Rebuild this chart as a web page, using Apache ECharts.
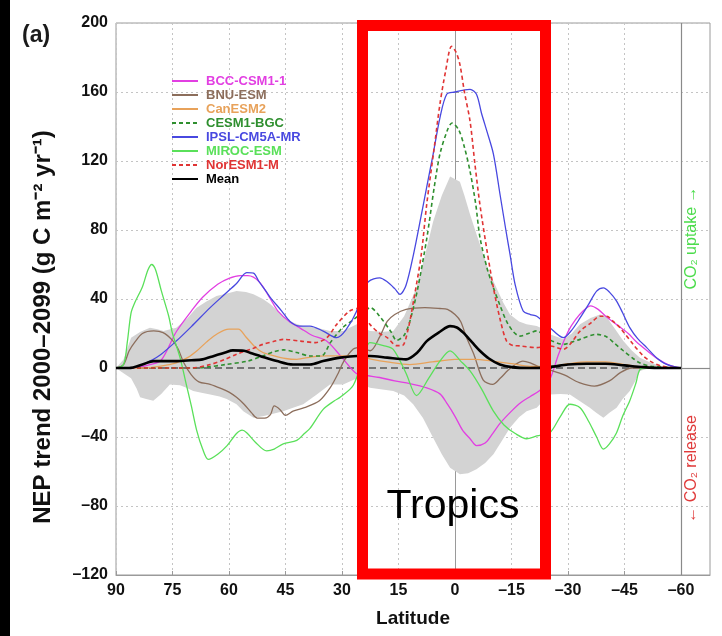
<!DOCTYPE html>
<html>
<head>
<meta charset="utf-8">
<script src="https://cdn.jsdelivr.net/npm/echarts@6/dist/echarts.min.js"></script>
<style>
html,body{margin:0;padding:0;background:#fff;}
#chart{width:722px;height:636px;}
</style>
</head>
<body>
<div id="chart"></div>
<script>
// ---- tick labels ----
const xTicks = [90, 75, 60, 45, 30, 15, 0, -15, -30, -45, -60];
const yTicks = [-120, -80, -40, 0, 40, 80, 120, 160, 200];

// ---- series values: [latitude, NEP trend] ----
const bccCsm = [[90,0],[87,0],[84,0.5],[81,2],[78,4.5],[74,21],[70,33],[67,41],[63,48.5],[60,52],[57,53.5],[55,53.5],[52,50],[49,40],[47,33],[44,27],[41,23],[38,19],[34,15.5],[30,6],[26,-3.5],[23,-4.5],[20,-5.5],[16,-7.5],[12,-9],[7.5,-11.5],[4,-15],[2,-21],[0,-28],[-2,-36],[-4,-41],[-5.7,-45],[-8,-43.5],[-10,-38],[-12,-32],[-15,-25],[-17.5,-20],[-20,-16.5],[-22.5,-13],[-25,-7.5],[-27.5,8],[-30,21],[-32,28],[-34,33],[-36,36],[-38,34],[-40,30],[-43,25],[-46,20],[-48,15.5],[-51,10],[-54,5],[-57,1.5],[-60,0]];
const bnuEsm = [[90,0],[88,2],[86.5,10],[85,15],[83,20],[80,21.5],[77.5,20.5],[75,16],[73.5,11],[72,3],[70,-4],[68,-8],[65,-9.5],[62,-12],[60,-14],[58,-17],[56,-21],[54,-26],[52.5,-29],[50.5,-29],[49,-27],[48,-22],[46.5,-24],[45,-27.5],[43,-25],[40,-23],[36,-19],[33,-11],[31,-3],[29.5,4],[27,11],[25,12],[22.5,10],[20,18],[18,27],[16,31],[13,34],[8,35],[4,34.5],[2,34],[0,31],[-1.5,27],[-3,18],[-5,8],[-7.5,-7],[-10,-9.5],[-12,-6],[-14,-1.5],[-16,2],[-18,4],[-20,3],[-22,1],[-25,-1],[-29,-4],[-33,-8.5],[-37,-10.5],[-41,-7.5],[-44,-2.5],[-47,0],[-60,0]];
const canEsm2 = [[90,0],[83,0],[80,0.5],[77,1.5],[74,3],[71,6],[68.5,10],[66,15],[63,20],[60,22.5],[57.5,22.5],[55.5,18],[53,12],[51,9],[48,7],[45,5.5],[42,5],[38,6.5],[34,7],[30,7],[26,7],[22,5],[18,3.5],[12,2],[6,3.5],[0,5],[-5,5],[-10,4],[-15,2.5],[-20,1],[-25,1],[-30,2.5],[-35,3.5],[-40,3.5],[-45,2],[-50,0.5],[-60,0]];
const cesm1Bgc = [[90,0],[80,0],[70,0],[66,0.5],[61,2],[55,4],[51,7],[48,9.5],[45.5,10.5],[42,9],[38.5,7],[35.5,7],[33,15],[30,23],[27,28],[24,33],[22.5,35],[20,30],[17,21],[15.5,16],[13.5,19],[12,27],[10,45],[7.5,75],[5.5,105],[4,124],[2,138],[0.8,142],[-1,138],[-2.5,128],[-4,114],[-5.5,95],[-6.6,76],[-8.5,58],[-10.2,46.5],[-12,36],[-13.7,27],[-15.5,21],[-17.2,18.5],[-19.5,20],[-21.7,21.5],[-25,16.5],[-28.8,13.7],[-31,15],[-33.2,16.6],[-37.6,19.5],[-40.3,18],[-42.5,14],[-44.7,10],[-47,6],[-49,3],[-52,1],[-60,0]];
const ipslCm5aMr = [[90,0],[86,0],[84,1],[81,4],[78,8],[74,15.6],[70,24],[65,35],[61,43],[58,49],[55.3,55.3],[53.5,55],[52,50],[50,44],[49,40.8],[46,33],[43.8,27],[41.2,24.3],[38.5,24.3],[35,21.4],[31.4,17.6],[29,22],[26.1,33],[25.2,42],[23,50],[20,52.3],[18,50],[16,46],[14.6,42.7],[13,48],[11,66],[9,88],[7.5,105],[5.8,124],[4,145],[2.2,158.7],[0,160],[-1.3,160.6],[-4,161.5],[-5.7,158.7],[-7,148],[-8.5,137],[-10.2,124],[-12,100],[-13.5,80],[-14.6,66],[-16,48],[-18.1,33],[-20,31],[-21.7,30],[-25.2,23.4],[-28.8,17.6],[-31,22],[-33.2,29],[-35.5,37],[-37.6,44.6],[-39.4,46.5],[-41,44],[-42.9,38.8],[-44.5,32],[-46.4,23.4],[-48.5,17],[-50.9,11.8],[-53.5,6],[-56.2,2.1],[-60,0]];
const mirocEsm = [[90,0],[88,2],[87,15],[86,32],[85,38],[83,47],[81.5,57],[80.5,60],[79.5,57],[78,45],[76,30],[75,20],[73,6],[71.5,-8],[70,-22],[68.6,-36],[67,-47],[65.5,-53],[63,-50],[60.5,-45],[58,-38],[56.5,-36],[55.3,-37.5],[53,-43],[50,-48],[48,-47],[45.6,-44],[42,-42],[40,-38],[38.5,-35],[35,-24],[32,-19],[30.5,-17],[27,-10],[24,8],[22.6,14.7],[19,13],[16.4,10.8],[13,-3],[10.2,-16],[7,-6],[4,4],[1.3,9.9],[-1.5,4],[-4,-1.7],[-7,-12],[-10.2,-25],[-13,-33],[-16,-38],[-19,-41],[-21.7,-39.4],[-25.2,-37.5],[-28,-28],[-30.5,-21],[-33.2,-23],[-35.5,-31],[-37.6,-40],[-39.4,-47],[-41,-44],[-42.9,-37.5],[-44.5,-28],[-46.4,-19],[-48,-9],[-49.1,-1],[-51,0],[-60,0]];
const norEsm1M = [[90,0],[75,0],[70,0],[65,2],[61,5],[58,8],[54,11],[51,13.7],[48,15.5],[45.6,16.6],[41,15.6],[37,14.7],[34,17.6],[31.4,25.3],[28,33],[25.7,34.6],[22.6,25.3],[20,20],[18,17.6],[15.5,13],[14,13],[12.5,22],[11,39],[9,65],[7.5,95],[5.5,128],[4,153],[2.5,172],[0.9,186.5],[-0.3,183],[-1.3,176],[-2.5,160],[-4,143],[-5.3,118],[-6.6,95],[-8.5,68],[-10.2,46.5],[-12,28],[-13.7,15.6],[-15.5,13],[-17.2,12.8],[-21.7,11.8],[-25.2,12.8],[-28.8,10.8],[-31,15],[-33.2,21.4],[-36,26],[-38.5,30],[-40.3,30],[-42,27],[-43.8,23.4],[-47.3,13.7],[-50,7],[-51.8,4],[-55,1],[-60,0]];
const meanNep = [[90,0],[86.5,0],[83,2],[80,4],[74,4],[70,4.5],[67,5],[64,7],[61,9],[59,10.2],[56,10],[54,8.5],[51.8,7],[47.3,4],[43,2],[38.5,2],[35,4],[30.5,6],[26,7],[22.6,7],[18,6],[13,5],[10,9],[7.5,15.6],[4,21],[1.3,24.3],[-0.5,23.5],[-2.2,20.5],[-4.5,15],[-6.6,10],[-9,5.5],[-11.9,2],[-15,0.5],[-20,0],[-25,0.5],[-30,2],[-35,2.5],[-40,2.5],[-45,1.5],[-50,0.5],[-55,0],[-60,0]];
const bandUpper = [[90,0],[88,5],[86,17.6],[83.5,21],[81,23.4],[79,22.5],[77.4,21.4],[74,23.4],[71,29],[68.6,35],[66,38.5],[63.3,41.7],[60,43.5],[58,44.6],[55.5,44],[53.5,42.7],[51,40],[49,37],[46.5,32],[44.7,28],[42,25.5],[40.3,24.3],[36.7,23.4],[33.2,21.4],[29.7,21.4],[26.1,25.3],[24,23],[22.6,21.4],[19,21],[16.4,21.4],[13.5,30],[10.2,46.5],[8,65],[5.8,85],[3.5,100],[1.3,111],[-1.3,108],[-2.5,100],[-4,89],[-5.8,77],[-7.5,66],[-9,56],[-11,46.5],[-12.8,38],[-14.6,31],[-17,27],[-19,25.3],[-21.7,24.3],[-23,23],[-25.2,19.5],[-28.8,16.6],[-31,20],[-33.2,25.3],[-36,29],[-38.5,31],[-40,30],[-41.1,27],[-43,21],[-44.7,15.6],[-47,10],[-49.1,6],[-52,3],[-55,1],[-60,0]];
const bandLower = [[90,0],[88,-3],[86,-6],[84.5,-12],[83.6,-17],[82,-18],[80.1,-19],[78,-15],[75.7,-9.5],[73,-10],[71.3,-11.4],[69.5,-13.3],[67,-14.5],[65,-15.3],[62.5,-16.5],[60.6,-18],[58,-21],[56.2,-25],[53.5,-28.8],[51,-28],[49.1,-27],[45.6,-25],[43,-23],[40.3,-21],[36.7,-15.3],[33.2,-9.5],[29.7,-9.5],[26,-6],[24,-10],[22.6,-11.4],[16.4,-13.3],[13.5,-16],[11.1,-21],[8.5,-29],[5.8,-40.4],[3.5,-50],[1.3,-57.8],[-1.3,-61.6],[-3.5,-61],[-5.7,-58.7],[-8,-55],[-10.2,-50],[-12.5,-42],[-14.6,-34.6],[-17,-28.5],[-19,-25],[-21.7,-23],[-23,-20],[-25.2,-15.3],[-28,-15],[-30.5,-15.3],[-33,-19],[-35.8,-23],[-37.5,-26],[-39.4,-28.8],[-41,-26],[-42.9,-23],[-44.5,-18],[-46.4,-13.3],[-48,-7],[-49.1,-1.7],[-51,-0.5],[-60,0]];

const modelNames = ['BCC-CSM1-1','BNU-ESM','CanESM2','CESM1-BGC','IPSL-CM5A-MR','MIROC-ESM','NorESM1-M','Mean'];
const modelData = [bccCsm, bnuEsm, canEsm2, cesm1Bgc, ipslCm5aMr, mirocEsm, norEsm1M, meanNep];
const modelColors = ['#e23fe2','#8c6e5c','#e8a25a','#2f8f2f','#4848e0','#5ae05a','#e03434','#000000'];
const modelDash = ['solid','solid','solid',[4,3],'solid','solid',[4,3],'solid'];
const modelWidth = [1.3,1.3,1.3,1.6,1.3,1.3,1.6,2.6];

const FONT = 'Liberation Sans, Arial, sans-serif';
const fmt = v => String(v).replace('-', '\u2013');

const chart = echarts.init(document.getElementById('chart'), null, {renderer:'canvas'});

const lineSeries = modelNames.map((n, i) => ({
  name: n,
  type: 'line',
  data: modelData[i],
  symbol: 'none',
  showSymbol: false,
  smooth: 0.3,
  z: i === 7 ? 10 : 5,
  lineStyle: {color: modelColors[i], width: modelWidth[i], type: modelDash[i]},
  itemStyle: {color: modelColors[i]}
}));

const option = {
  animation: false,
  backgroundColor: '#ffffff',
  grid: {left:116, right:12, top:23, bottom:61, show:true, borderColor:'#9a9a9a', borderWidth:1, backgroundColor:'transparent'},
  legend: {
    orient:'vertical', left:166, top:69, itemWidth:26, itemHeight:8, itemGap:0,
    itemStyle:{opacity:0},
    data: modelNames.map((n,i) => ({name:n, textStyle:{color: modelColors[i]}})),
    textStyle:{fontFamily:FONT, fontWeight:'bold', fontSize:13, lineHeight:14, padding:[0,0,0,3]}
  },
  xAxis: {
    type:'value', inverse:true, min:-67.7, max:90,
    name:'Latitude', nameLocation:'middle', nameGap:34,
    nameTextStyle:{fontFamily:FONT, fontWeight:'bold', fontSize:19, color:'#111'},
    axisLine:{show:true, onZero:false, lineStyle:{color:'#9a9a9a'}},
    axisTick:{show:true, inside:true, length:4, customValues:xTicks, lineStyle:{color:'#9a9a9a'}},
    axisLabel:{customValues:xTicks, formatter:fmt, color:'#111', fontFamily:FONT, fontWeight:'bold', fontSize:16, margin:8},
    splitLine:{show:true, lineStyle:{color:'#c4c4c4', type:[2,3], width:1}}
  },
  yAxis: {
    type:'value', min:-120, max:200, interval:40,
    name:'NEP trend 2000\u20132099 (g C m\u207B\u00B2 yr\u207B\u00B9)', nameLocation:'middle', nameGap:61,
    nameTextStyle:{fontFamily:FONT, fontWeight:'bold', fontSize:24, color:'#111', padding:[0,56,0,0]},
    axisLine:{show:true, lineStyle:{color:'#9a9a9a'}},
    axisTick:{show:true, inside:true, length:4, lineStyle:{color:'#9a9a9a'}},
    axisLabel:{formatter:fmt, color:'#111', fontFamily:FONT, fontWeight:'bold', fontSize:16, margin:8},
    splitLine:{show:true, lineStyle:{color:'#c4c4c4', type:[2,3], width:1}}
  },
  series: [
    {
      type:'custom', name:'band', silent:true, z:1,
      data:[[0,0]],
      renderItem: (params, api) => {
        const pts = bandUpper.map(p => api.coord(p)).concat(bandLower.slice().reverse().map(p => api.coord(p)));
        return {type:'polygon', shape:{points:pts}, style:{fill:'#d3d3d3'}};
      }
    },
    {
      type:'line', name:'refs', data:[], silent:true, z:3,
      markLine:{
        silent:true, symbol:'none', label:{show:false},
        data:[
          [{coord:[90,0], lineStyle:{color:'#555', type:[7,4], width:1.6}}, {coord:[-60,0]}],
          [{coord:[-60,0], lineStyle:{color:'#8a8a8a', type:'solid', width:1.2}}, {coord:[-67.7,0]}],
          [{coord:[-60,-120], lineStyle:{color:'#8a8a8a', type:'solid', width:1.2}}, {coord:[-60,200]}]
        ]
      }
    },
    ...lineSeries
  ],
  graphic: [
    {type:'rect', left:0, top:0, shape:{width:10, height:636}, style:{fill:'#000'}, z:100},
    {type:'text', left:22, top:24, style:{text:'(a)', font:'bold 23px ' + FONT, fill:'#1a1a1a'}, z:100},
    {type:'text', x:692, y:238, rotation:Math.PI/2, style:{text:'CO\u2082 uptake \u2192', font:'16px ' + FONT, fill:'#4cdc4c', align:'center', verticalAlign:'middle'}, z:100},
    {type:'text', x:692, y:469, rotation:Math.PI/2, style:{text:'\u2190 CO\u2082 release', font:'16px ' + FONT, fill:'#e03a3a', align:'center', verticalAlign:'middle'}, z:100},
    {type:'rect', shape:{x:362.5, y:25.5, width:183, height:548.5}, style:{fill:'none', stroke:'#ff0000', lineWidth:11}, z:100},
    {type:'text', x:453, y:507, style:{text:'Tropics', font:'41px ' + FONT, fill:'#000', align:'center', verticalAlign:'middle'}, z:100}
  ]
};
chart.setOption(option);
</script>
</body>
</html>
